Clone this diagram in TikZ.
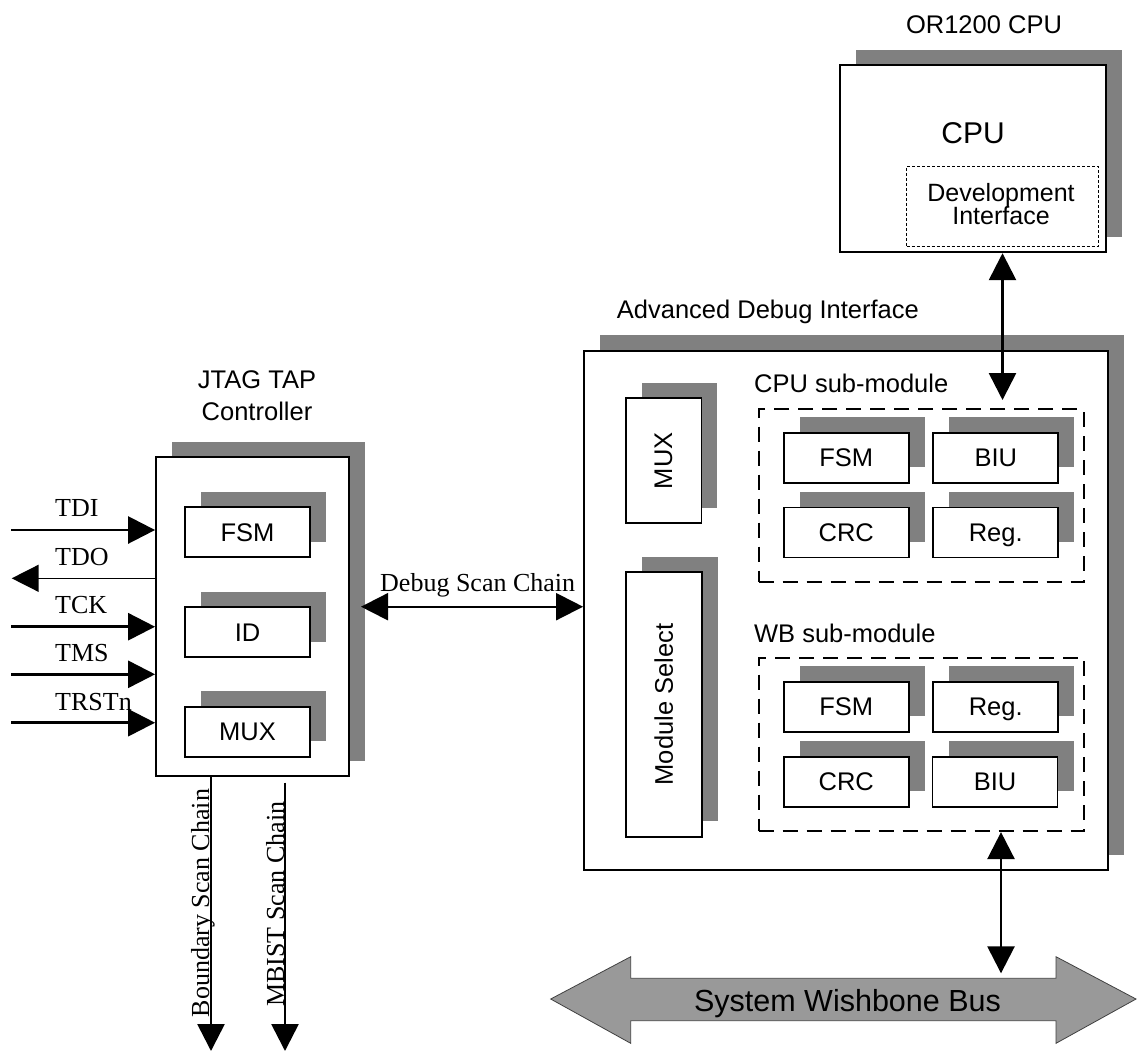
\documentclass[tikz,border=0pt]{standalone}
\usepackage{fontspec}
\newfontfamily\arialf{Liberation Sans}
\newfontfamily\timesf{Liberation Serif}
\newcommand\devfont{\arialf\fontsize{25}{23}\selectfont\lineskiplimit=-50pt\relax}
\usetikzlibrary{arrows.meta,shadows}
\definecolor{sgray}{HTML}{808080}
\definecolor{busgray}{HTML}{999999}
\tikzset{
  sfont/.style={font=\arialf\fontsize{25.5}{30}\selectfont},
  serf/.style={font=\timesf\fontsize{26}{30}\selectfont},
  blk/.style={draw=black, line width=1.8pt, fill=white, inner sep=0pt, sfont,
     general shadow={fill=sgray, shadow xshift=16pt, shadow yshift=15.5pt}},
  sub/.style={blk, minimum width=125pt, minimum height=50pt, text height=18pt, text depth=0pt},
  grp/.style={draw, dash pattern=on 15pt off 9pt, line width=2.2pt, inner sep=0pt},
  tip/.style={-{Triangle[length=27pt,width=27pt]}, line width=2.6pt},
  dtip/.style={{Triangle[length=27pt,width=27pt]}-{Triangle[length=27pt,width=27pt]}, line width=2.6pt},
  lbl/.style={inner sep=0pt},
}
\begin{document}
\begin{tikzpicture}[x=1pt,y=-1pt]
\useasboundingbox (0,0) rectangle (1139,1053);

% ---------------- JTAG TAP controller
\node[blk, minimum width=193pt, minimum height=319pt] (jtag) at (252.5,616.5) {};
\node[lbl, font=\arialf\fontsize{25.5}{32.4}\selectfont, align=center] (jtagtitle) at (257,395.5) {JTAG TAP\\Controller};
\node[sub] (jfsm) at (247.5,532.3) {FSM};
\node[sub] (jid) at (247.5,632.3) {ID};
\node[sub] (jmux) at (247.5,731.7) {MUX};

\coordinate (tdi) at (11,530);
\coordinate (tdo) at (11.7,578.3);
\coordinate (tck) at (11,626.7);
\coordinate (tms) at (11,674.3);
\coordinate (trst) at (11,722.7);
\draw[tip] (tdi) -- (tdi -| jtag.west);
\draw[tip, line width=1.5pt] (tdo -| jtag.west) -- (tdo);
\draw[tip] (tck) -- (tck -| jtag.west);
\draw[tip] (tms) -- (tms -| jtag.west);
\draw[tip] (trst) -- (trst -| jtag.west);
\node[serf, lbl, anchor=base west] (ltdi) at (55,516.7) {TDI};
\node[serf, lbl, anchor=base west] (ltdo) at (55,565) {TDO};
\node[serf, lbl, anchor=base west] (ltck) at (55,613) {TCK};
\node[serf, lbl, anchor=base west] (ltms) at (55,661.7) {TMS};
\node[serf, lbl, anchor=base west] (ltrst) at (55,710) {TRSTn};

\coordinate (bnd) at (211,1051);
\draw[tip] (bnd |- jtag.south) -- (bnd);
\coordinate (mbs) at (285,782.7);
\coordinate (mbe) at (285,1051);
\draw[tip] (mbs) -- (mbe);
\node[serf, lbl, rotate=90, anchor=base] (lbnd) at (209,903) {Boundary Scan Chain};
\node[serf, lbl, rotate=90, anchor=base] (lmb) at (284,904) {MBIST Scan Chain};

% ---------------- OR1200 CPU
\node[sfont, lbl, anchor=base] (ortitle) at (984,33.3) {OR1200 CPU};
\node[blk, minimum width=266pt, minimum height=187.3pt] (cpu) at (973,158.65) {};
\node[lbl, font=\arialf\fontsize{30}{36}\selectfont, anchor=base] (cput) at (973,143.3) {CPU};
\node[draw, line width=0.9pt, dash pattern=on 3pt off 2pt, minimum width=191.6pt, minimum height=80pt, inner sep=0pt] (devif) at (1002.5,206) {};
\node[lbl, font=\devfont, align=center] (devt) at (1001,204.5) {Development\\Interface};

% ---------------- Advanced Debug Interface
\node[sfont, lbl, anchor=base west] (aditt) at (616.7,318.3) {Advanced Debug Interface};
\node[blk, minimum width=523.6pt, minimum height=519.3pt] (adi) at (845.8,610.35) {};
\node[blk, minimum width=75.7pt, minimum height=125pt] (amux) at (663.55,460.8) {\rotatebox{90}{MUX}};
\node[blk, minimum width=75.7pt, minimum height=264.4pt] (msel) at (663.85,704.5) {\rotatebox{90}{Module Select}};

\node[grp, minimum width=324.9pt, minimum height=172.7pt] (cpusub) at (921.15,495.35) {};
\node[sfont, lbl, anchor=base west] (cpusubt) at (753.9,392.7) {CPU sub-module};
\node[sub] (cfsm) at (846.2,457.7) {FSM};
\node[sub] (cbiu) at (995.75,457.7) {BIU};
\node[sub] (ccrc) at (846.2,532.5) {CRC};
\node[sub] (creg) at (995.75,532.5) {Reg.};

\node[grp, minimum width=324.9pt, minimum height=173.3pt] (wbsub) at (921.15,744.35) {};
\node[sfont, lbl, anchor=base west] (wbsubt) at (753.9,642.7) {WB sub-module};
\node[sub] (wfsm) at (846.2,706.7) {FSM};
\node[sub] (wreg) at (995.75,706.7) {Reg.};
\node[sub] (wcrc) at (846.2,781.7) {CRC};
\node[sub] (wbiu) at (995,781.7) {BIU};

% ---------------- connectors
\coordinate (cpuarr) at (1002.5,400);
\draw[dtip] (cpu.south -| cpuarr) -- (cpuarr);
\coordinate (dsc) at (361,606.7);
\draw[dtip, line width=2pt] (dsc) -- (dsc -| adi.west);
\node[serf, lbl, anchor=base west] (dsct) at (380,591.7) {Debug Scan Chain};

% ---------------- System Wishbone Bus
\path[fill=busgray, draw=black!75, line width=0.8pt]
  (550.7,999) -- (630.7,956.7) -- (630.7,978.3) -- (1056,978.3) -- (1056,956.7)
  -- (1136,999) -- (1056,1043.3) -- (1056,1020.7) -- (630.7,1020.7) -- (630.7,1043.3) -- cycle;
\node[lbl, font=\arialf\fontsize{30.5}{36}\selectfont, anchor=base] (bus) at (847.5,1011.7) {System Wishbone Bus};
\coordinate (bustop) at (1001,973.3);
\draw[dtip] (wbsub.south -| bustop) -- (bustop);
\end{tikzpicture}
\end{document}
